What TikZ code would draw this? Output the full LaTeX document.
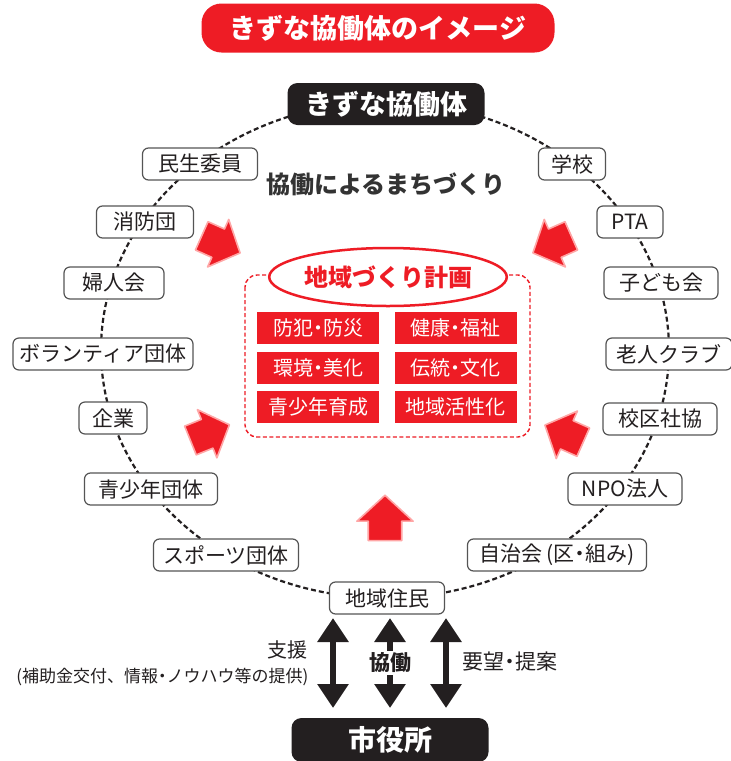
\documentclass[tikz,border=0pt]{standalone}
\usepackage{fontspec}
\setmainfont{Noto Sans CJK JP}
\usetikzlibrary{arrows.meta,shapes.geometric}
\definecolor{kred}{HTML}{EE1C25}
\definecolor{kblack}{HTML}{231F20}
\definecolor{kgray}{HTML}{555555}
\definecolor{kdark}{HTML}{333333}
\newcommand{\ndot}{\makebox[0.5em][c]{・}}
\begin{document}
\begin{tikzpicture}[x=1pt,y=-1pt,
  fs/.style={font=\fontsize{#1}{#1}\selectfont},
  member/.style={draw=kgray, line width=1.2pt, fill=white, rounded corners=6pt,
    minimum height=32pt, inner sep=0pt, fs=21, text=kblack},
  blackbox/.style={fill=kblack, rounded corners=10pt, inner sep=0pt, text=white,
    font=\fontsize{27}{27}\selectfont\bfseries},
  task/.style={fill=kred, minimum width=122pt, minimum height=32pt, inner sep=0pt,
    text=white, fs=20},
  ring/.style={draw=kblack, line width=2.2pt, dash pattern=on 5pt off 3pt},
  redarrow/.style={fill=kred, draw=red!35, line width=1.6pt, line join=round},
  dblarrow/.style={line width=6pt, draw=kblack,
    {Triangle[width=30pt,length=24pt]}-{Triangle[width=30pt,length=24pt]}},
  blockarrow/.pic={\path[redarrow] (-20,-15.5) -- (-2,-15.5) -- (-2,-26) -- (22,0)
     -- (-2,26) -- (-2,15.5) -- (-20,15.5) -- cycle;}
]
\useasboundingbox (0,0) rectangle (731,761);
\fill[white] (0,0) rectangle (731,761);

% title
\node[fill=kred, rounded corners=20pt, minimum width=353pt, minimum height=49pt,
  inner sep=0pt, text=white, font=\fontsize{27}{27}\selectfont\bfseries]
  (title) at (378,28) {きずな協働体のイメージ};

% ring
\draw[ring] (385,350) ellipse [x radius=284, y radius=248];

% top node
\node[blackbox, minimum width=197pt, minimum height=42pt] (kizuna) at (386,104) {きずな協働体};

% members left
\node[member, minimum width=115pt] (minsei) at (200,164) {民生委員};
\node[member, minimum width=97pt] (shobo) at (145,222) {消防団};
\node[member, minimum width=100pt] (fujin) at (114,283) {婦人会};
\node[member, minimum width=180pt] (volunteer) at (103,354) {ボランティア団体};
\node[member, minimum width=68pt] (kigyo) at (113,418) {企業};
\node[member, minimum width=133pt] (seishonen) at (151,489) {青少年団体};
\node[member, minimum width=145pt] (sports) at (226,555) {スポーツ団体};
\node[member, minimum width=115pt] (jumin) at (387,598) {地域住民};
% members right
\node[member, minimum width=67pt] (gakko) at (572,164) {学校};
\node[member, minimum width=66pt] (pta) at (630,222) {PTA};
\node[member, minimum width=114pt] (kodomo) at (661,283) {子ども会};
\node[member, minimum width=126pt] (rojin) at (669,354) {老人クラブ};
\node[member, minimum width=114pt] (shakyo) at (660,419) {校区社協};
\node[member, minimum width=114pt] (npo) at (625,489) {NPO法人};
\node[member, minimum width=179pt] (jichikai) at (557,555) {自治会\,(区\ndot 組み)};

% subtitle
\node[text=kdark, font=\fontsize{24}{24}\selectfont\bfseries] (sub) at (386,184) {協働によるまちづくり};

% plan area
\draw[kred, line width=1.4pt, dash pattern=on 4pt off 2.5pt, rounded corners=12pt]
  (245,275) rectangle (530,437);
\node[draw=kred, line width=2.5pt, fill=white, ellipse, minimum width=214pt,
  minimum height=58pt, inner sep=0pt, text=kred,
  font=\fontsize{24}{24}\selectfont\bfseries] (plan) at (388,277) {地域づくり計画};

\node[task] (t1) at (318,328) {防犯\ndot 防災};
\node[task] (t2) at (455.5,328) {健康\ndot 福祉};
\node[task] (t3) at (318,368) {環境\ndot 美化};
\node[task] (t4) at (455.5,368) {伝統\ndot 文化};
\node[task] (t5) at (318,407) {青少年育成};
\node[task] (t6) at (455.5,407) {地域活性化};

% red block arrows
\pic[rotate=-24] at (220,244) {blockarrow};
\pic[rotate=-156] at (553,244) {blockarrow};
\pic[rotate=22] at (209,433) {blockarrow};
\pic[rotate=156] at (565,434) {blockarrow};
\pic[rotate=90, scale=1.08] at (385,519) {blockarrow};

% city hall
\node[blackbox, minimum width=197pt, minimum height=44pt,
  font=\fontsize{28}{28}\selectfont\bfseries] (city) at (390,740) {市役所};

% vertical double arrows
\coordinate (a1t) at (333,618); \coordinate (a1b) at (333,708);
\coordinate (a2t) at (390,618); \coordinate (a2b) at (390,708);
\coordinate (a3t) at (446,618); \coordinate (a3b) at (446,708);
\draw[dblarrow] (a1t) -- (a1b);
\draw[dblarrow] (a2t) -- (a2b);
\draw[dblarrow] (a3t) -- (a3b);
\node[fill=white, inner xsep=1pt, inner ysep=2pt, text=kblack,
  font=\fontsize{21}{21}\selectfont\bfseries] (kyodo) at (390,663) {協働};

\node[anchor=east, fs=20, text=kblack] (shien) at (311,650) {支援};
\node[anchor=east, fs=17, text=kblack] (shiendet) at (312,677) {(補助金交付、情報\ndot ノウハウ等の提供)};
\node[anchor=west, fs=21, text=kblack] (youbou) at (459,662) {要望\ndot 提案};
\end{tikzpicture}
\end{document}
